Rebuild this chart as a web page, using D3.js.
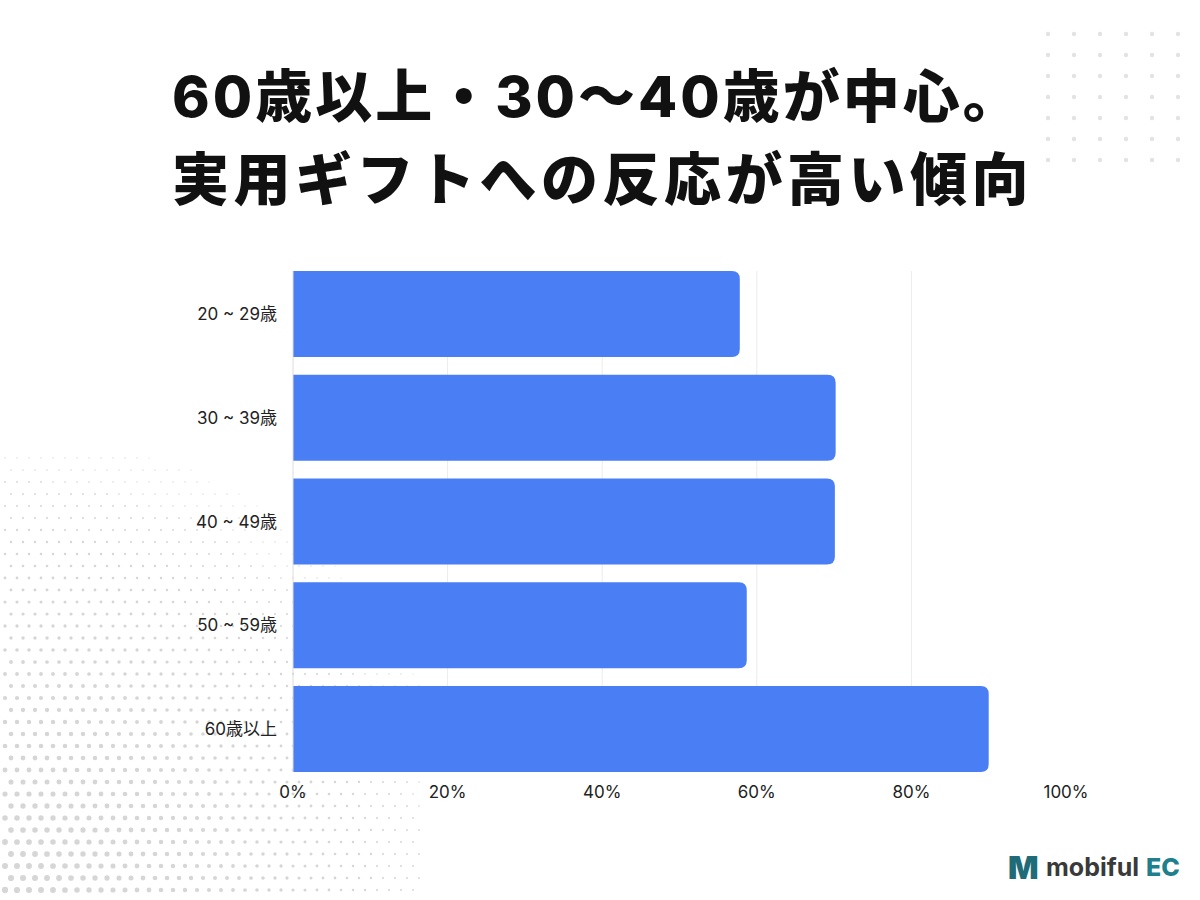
<!DOCTYPE html>
<html><head><meta charset="utf-8">
<script src="https://cdn.jsdelivr.net/npm/d3@7"></script>
<style>body{margin:0;background:#fff}svg{display:block}</style>
</head><body>
<svg width="1200" height="900"></svg>
<script>
const categories = ["20 ~ 29歳", "30 ~ 39歳", "40 ~ 49歳", "50 ~ 59歳", "60歳以上"];
const values = [57.8, 70.2, 70.1, 58.7, 90.0];
const ticks = [0, 20, 40, 60, 80, 100];
const titleLines = ["60歳以上・30〜40歳が中心。", "実用ギフトへの反応が高い傾向"];

const svg = d3.select("svg");
const font = "Inter, 'Noto Sans CJK JP', sans-serif";

// 背景の点描（装飾）
const deco = svg.append("g");
for (let i = 0; i < 6; i++) for (let j = 0; j < 7; j++) {
  deco.append("circle").attr("cx", 1048 + i * 26).attr("cy", 34 + j * 21).attr("r", 2.2).attr("fill", "#e3e3e3");
}
for (let x = 4; x < 420; x += 12) for (let y = 458; y < 900; y += 12) {
  const d = Math.hypot(x - 0, y - 900);
  const t = 1 - d / 470;
  if (t <= 0) continue;
  deco.append("circle").attr("cx", x + ((y / 12) % 2) * 6).attr("cy", y).attr("r", 0.6 + t * 2.6).attr("fill", "#d6d6d6");
}

svg.append("g").selectAll("text").data(titleLines).join("text")
  .attr("x", 172).attr("y", (d, i) => 117 + i * 83)
  .style("font-family", font).style("font-size", "57px").style("letter-spacing", (d, i) => i ? "4.5px" : "3px")
  .style("font-weight", 800).style("fill", "#111")
  .text(d => d);

const x = d3.scaleLinear().domain([0, 100]).range([293, 1066]);
const y = d3.scaleBand().domain(categories).range([271, 772]).paddingInner(0.17).paddingOuter(0);

svg.append("g").selectAll("line").data(ticks.slice(1, -1)).join("line")
  .attr("x1", d => x(d)).attr("x2", d => x(d)).attr("y1", 271).attr("y2", 772)
  .attr("stroke", "#ececec").attr("stroke-width", 1);

const r = 8;
svg.append("g").selectAll("path").data(values).join("path")
  .attr("fill", "#4a7ef5")
  .attr("d", (d, i) => {
    const x0 = x(0), x1 = x(d), y0 = y(categories[i]), h = y.bandwidth();
    return `M${x0},${y0}H${x1 - r}Q${x1},${y0} ${x1},${y0 + r}V${y0 + h - r}Q${x1},${y0 + h} ${x1 - r},${y0 + h}H${x0}Z`;
  });

svg.append("line").attr("x1", x(0)).attr("x2", x(0)).attr("y1", 271).attr("y2", 772).attr("stroke", "#dcdcdc");

svg.append("g").selectAll("text").data(categories).join("text")
  .attr("x", 277).attr("y", d => y(d) + y.bandwidth() / 2 + 6)
  .attr("text-anchor", "end")
  .style("font-family", font).style("font-size", "17px").style("fill", "#222")
  .text(d => d);

svg.append("g").selectAll("text").data(ticks).join("text")
  .attr("x", d => x(d)).attr("y", 798).attr("text-anchor", "middle")
  .style("font-family", font).style("font-size", "17px").style("fill", "#222")
  .text(d => d + "%");

// ロゴ
const logo = svg.append("g");
logo.append("text").attr("x", 1008).attr("y", 879)
  .style("font-family", font).style("font-size", "32px").style("font-weight", 900).style("fill", "#1f6b78").text("M");
logo.append("text").attr("x", 1046).attr("y", 876)
  .style("font-family", font).style("font-size", "25px").style("font-weight", 700).style("fill", "#3a3a3a").text("mobiful");
logo.append("text").attr("x", 1146).attr("y", 876)
  .style("font-family", font).style("font-size", "25px").style("font-weight", 800).style("fill", "#1f7f8c").text("EC");
</script>
</body></html>
